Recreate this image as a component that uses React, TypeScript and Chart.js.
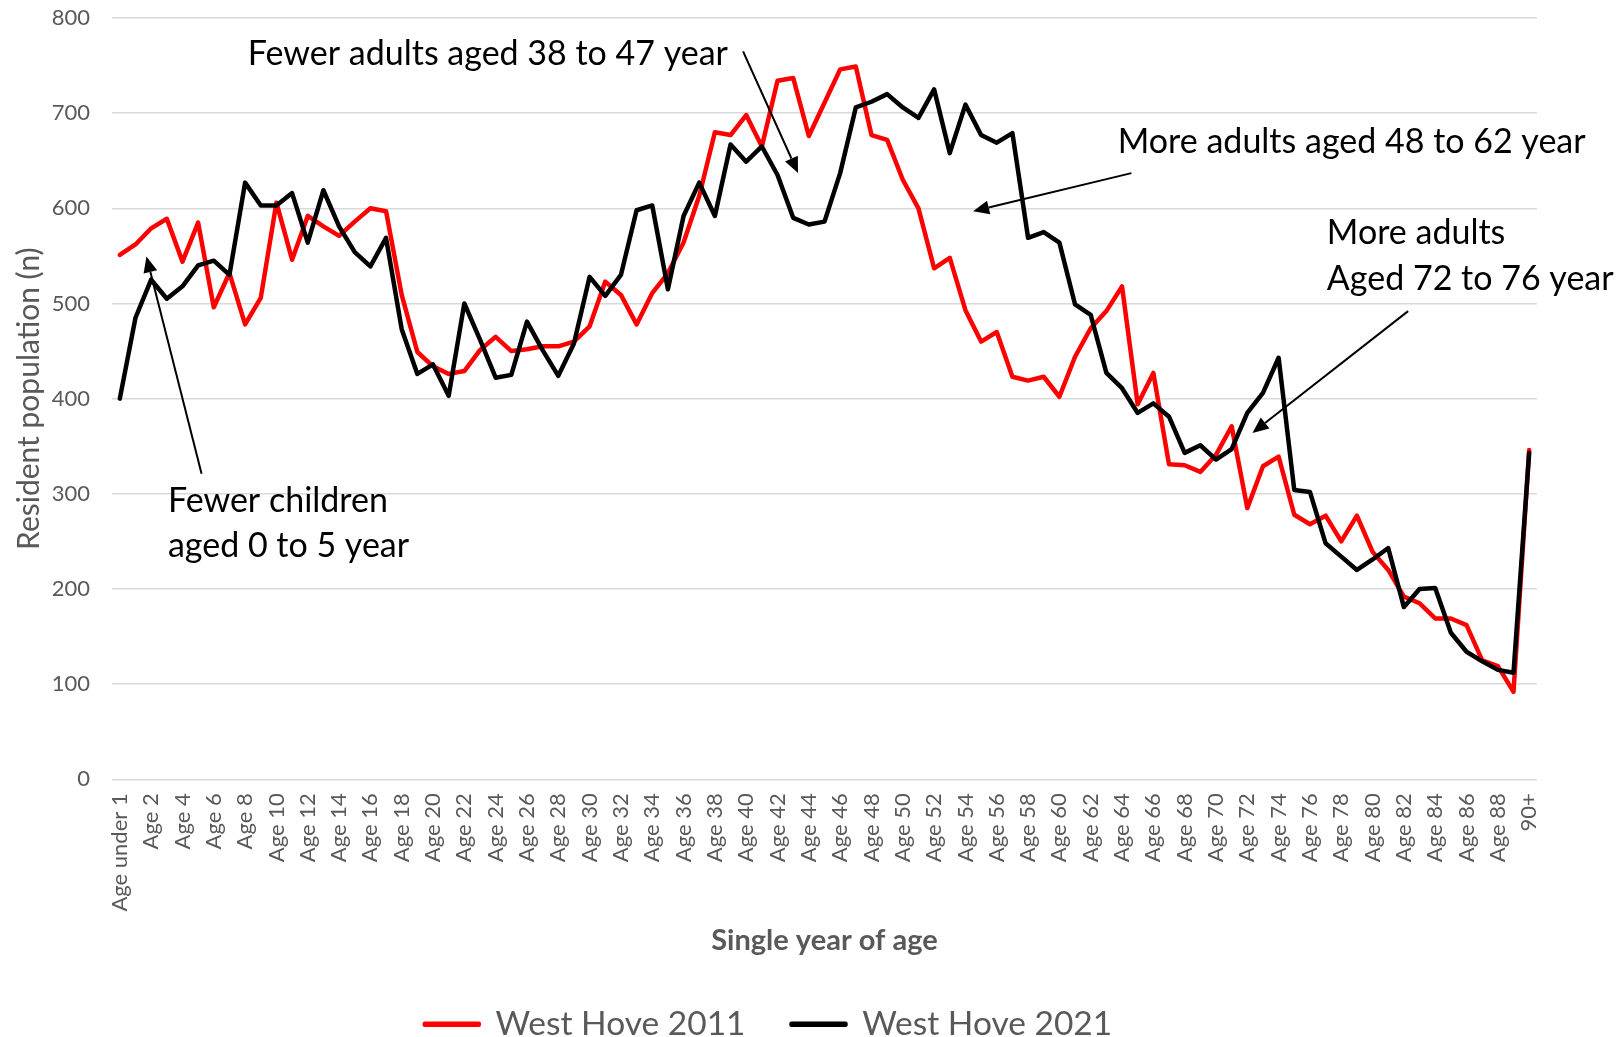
import React, { useEffect, useRef } from "react";
import { Chart, registerables } from "chart.js";

Chart.register(...registerables);

// ---- data ----
const ageLabels: string[] = ["Age under 1"];
for (let a = 1; a <= 89; a++) ageLabels.push("Age " + a);
ageLabels.push("90+");

const westHove2011 = [
  551, 562, 579, 589, 544, 585, 496, 532, 478, 506,
  606, 546, 592, 581, 571, 586, 600, 597, 509, 449,
  434, 426, 429, 451, 465, 450, 452, 455, 455, 460,
  476, 523, 509, 478, 511, 532, 564, 613, 680, 677,
  698, 665, 734, 737, 676, 711, 746, 749, 677, 672,
  630, 600, 537, 548, 493, 460, 470, 423, 419, 423,
  402, 444, 474, 492, 518, 394, 427, 331, 330, 323,
  341, 371, 285, 329, 339, 278, 268, 277, 250, 277,
  239, 220, 192, 185, 169, 169, 162, 125, 119, 92,
  346,
];

const westHove2021 = [
  400, 485, 525, 505, 518, 540, 545, 530, 627, 603,
  603, 616, 564, 619, 581, 554, 539, 569, 473, 426,
  436, 403, 500, 462, 422, 425, 481, 451, 424, 458,
  528, 508, 530, 598, 603, 515, 592, 627, 592, 667,
  649, 665, 635, 590, 583, 586, 637, 706, 712, 720,
  706, 695, 725, 658, 709, 677, 669, 679, 569, 575,
  564, 499, 488, 427, 411, 385, 395, 381, 343, 351,
  336, 347, 385, 406, 443, 304, 302, 248, 234, 220,
  231, 243, 181, 200, 201, 154, 134, 124, 115, 112,
  343,
];

const seriesNames = ["West Hove 2011", "West Hove 2021"];
const seriesColors = ["#FF0000", "#000000"];
const yAxisTitle = "Resident population (n)";
const xAxisTitle = "Single year of age";

// annotation texts, anchored in data units (category index, value)
const noteTexts = [
  { lines: ["Fewer adults aged 38 to 47 year"], at: 8.17, values: [751] },
  { lines: ["More adults aged 48 to 62 year"], at: 63.73, values: [658] },
  { lines: ["More adults", "Aged 72 to 76 year"], at: 77.08, values: [562, 514.5] },
  { lines: ["Fewer children", "aged 0 to 5 year"], at: 3.07, values: [281, 234] },
];
const noteArrows = [
  { from: [39.8, 765], to: [43.31, 637] },
  { from: [64.6, 637], to: [54.49, 597] },
  { from: [82.27, 492], to: [72.33, 364] },
  { from: [5.22, 321], to: [1.7, 549.5] },
];

const GRAY = "#595959";
const FONT = "Lato";
const CANVAS_W = 1616;
const CANVAS_H = 1051;
const PLOT_BOTTOM = 779.3;

const annotationPlugin = {
  id: "notes",
  afterDatasetsDraw(chart: any) {
    const { ctx, scales } = chart;
    const x = scales.x;
    const y = scales.y;
    ctx.save();
    ctx.fillStyle = "#000";
    ctx.font = `34px ${FONT}`;
    ctx.textAlign = "left";
    ctx.textBaseline = "alphabetic";
    noteTexts.forEach((t) => {
      t.lines.forEach((line, k) => {
        ctx.fillText(line, x.getPixelForValue(t.at), y.getPixelForValue(t.values[k]));
      });
    });
    ctx.strokeStyle = "#000";
    ctx.lineWidth = 2;
    noteArrows.forEach((a) => {
      const x0 = x.getPixelForValue(a.from[0]);
      const y0 = y.getPixelForValue(a.from[1]);
      const x1 = x.getPixelForValue(a.to[0]);
      const y1 = y.getPixelForValue(a.to[1]);
      const ang = Math.atan2(y1 - y0, x1 - x0);
      const head = 16;
      const half = 7;
      const bx = x1 - head * Math.cos(ang);
      const by = y1 - head * Math.sin(ang);
      ctx.beginPath();
      ctx.moveTo(x0, y0);
      ctx.lineTo(bx, by);
      ctx.stroke();
      ctx.beginPath();
      ctx.moveTo(x1, y1);
      ctx.lineTo(bx + half * Math.sin(ang), by - half * Math.cos(ang));
      ctx.lineTo(bx - half * Math.sin(ang), by + half * Math.cos(ang));
      ctx.closePath();
      ctx.fill();
    });
    ctx.restore();
  },
};

export default function App() {
  const canvasRef = useRef<HTMLCanvasElement | null>(null);

  useEffect(() => {
    document.body.style.margin = "0";
    document.body.style.overflow = "hidden";
    const canvas = canvasRef.current;
    if (!canvas) return;
    const chart = new Chart(canvas, {
      type: "line",
      data: {
        labels: ageLabels,
        datasets: [
          {
            label: seriesNames[0],
            data: westHove2011,
            borderColor: seriesColors[0],
            backgroundColor: seriesColors[0],
            borderWidth: 4.5,
            pointRadius: 0,
            tension: 0,
            borderJoinStyle: "round",
            borderCapStyle: "round",
            order: 1,
          },
          {
            label: seriesNames[1],
            data: westHove2021,
            borderColor: seriesColors[1],
            backgroundColor: seriesColors[1],
            borderWidth: 4.5,
            pointRadius: 0,
            tension: 0,
            borderJoinStyle: "round",
            borderCapStyle: "round",
            order: 0,
          },
        ],
      },
      options: {
        responsive: false,
        animation: false,
        devicePixelRatio: 1,
        layout: { padding: { top: 18, right: 79, left: 0, bottom: 0 } },
        plugins: {
          tooltip: { enabled: false },
          legend: {
            display: true,
            position: "bottom",
            labels: {
              color: GRAY,
              font: { family: FONT, size: 33.5 },
              boxWidth: 54,
              boxHeight: 1,
              padding: 46,
              sort: (a: any, b: any) => a.datasetIndex - b.datasetIndex,
            },
          },
        },
        scales: {
          x: {
            type: "category",
            offset: true,
            grid: { display: false, drawTicks: false },
            border: { display: false },
            ticks: {
              autoSkip: false,
              maxRotation: 90,
              minRotation: 90,
              padding: 14,
              color: GRAY,
              font: { family: FONT, size: 22 },
              callback: (_v: any, i: number) => (i % 2 === 0 ? ageLabels[i] : ""),
            },
            title: {
              display: true,
              text: xAxisTitle,
              color: GRAY,
              font: { family: FONT, size: 29, weight: "bold" },
              padding: { top: 0, bottom: 3 },
            },
            afterFit: (scale: any) => {
              const lh = scale.chart.legend ? scale.chart.legend.height : 0;
              scale.height = CANVAS_H - PLOT_BOTTOM - lh;
            },
          },
          y: {
            min: 0,
            max: 800,
            grid: { color: "#D9D9D9", lineWidth: 1.5, drawTicks: false },
            border: { display: false },
            ticks: {
              stepSize: 100,
              padding: 22,
              color: GRAY,
              font: { family: FONT, size: 22 },
            },
            title: {
              display: true,
              text: yAxisTitle,
              color: GRAY,
              font: { family: FONT, size: 30 },
              padding: { top: 11, bottom: 0 },
            },
            afterFit: (scale: any) => {
              scale.width = 112;
              scale.paddingTop = 0;
              scale.paddingBottom = 0;
            },
          },
        },
      },
      plugins: [annotationPlugin],
    });
    return () => chart.destroy();
  }, []);

  return (
    <div
      style={{
        position: "absolute",
        left: 0,
        top: 0,
        width: CANVAS_W,
        height: 1037,
        overflow: "hidden",
        background: "#fff",
      }}
    >
      <canvas ref={canvasRef} width={CANVAS_W} height={CANVAS_H} style={{ display: "block" }} />
    </div>
  );
}
